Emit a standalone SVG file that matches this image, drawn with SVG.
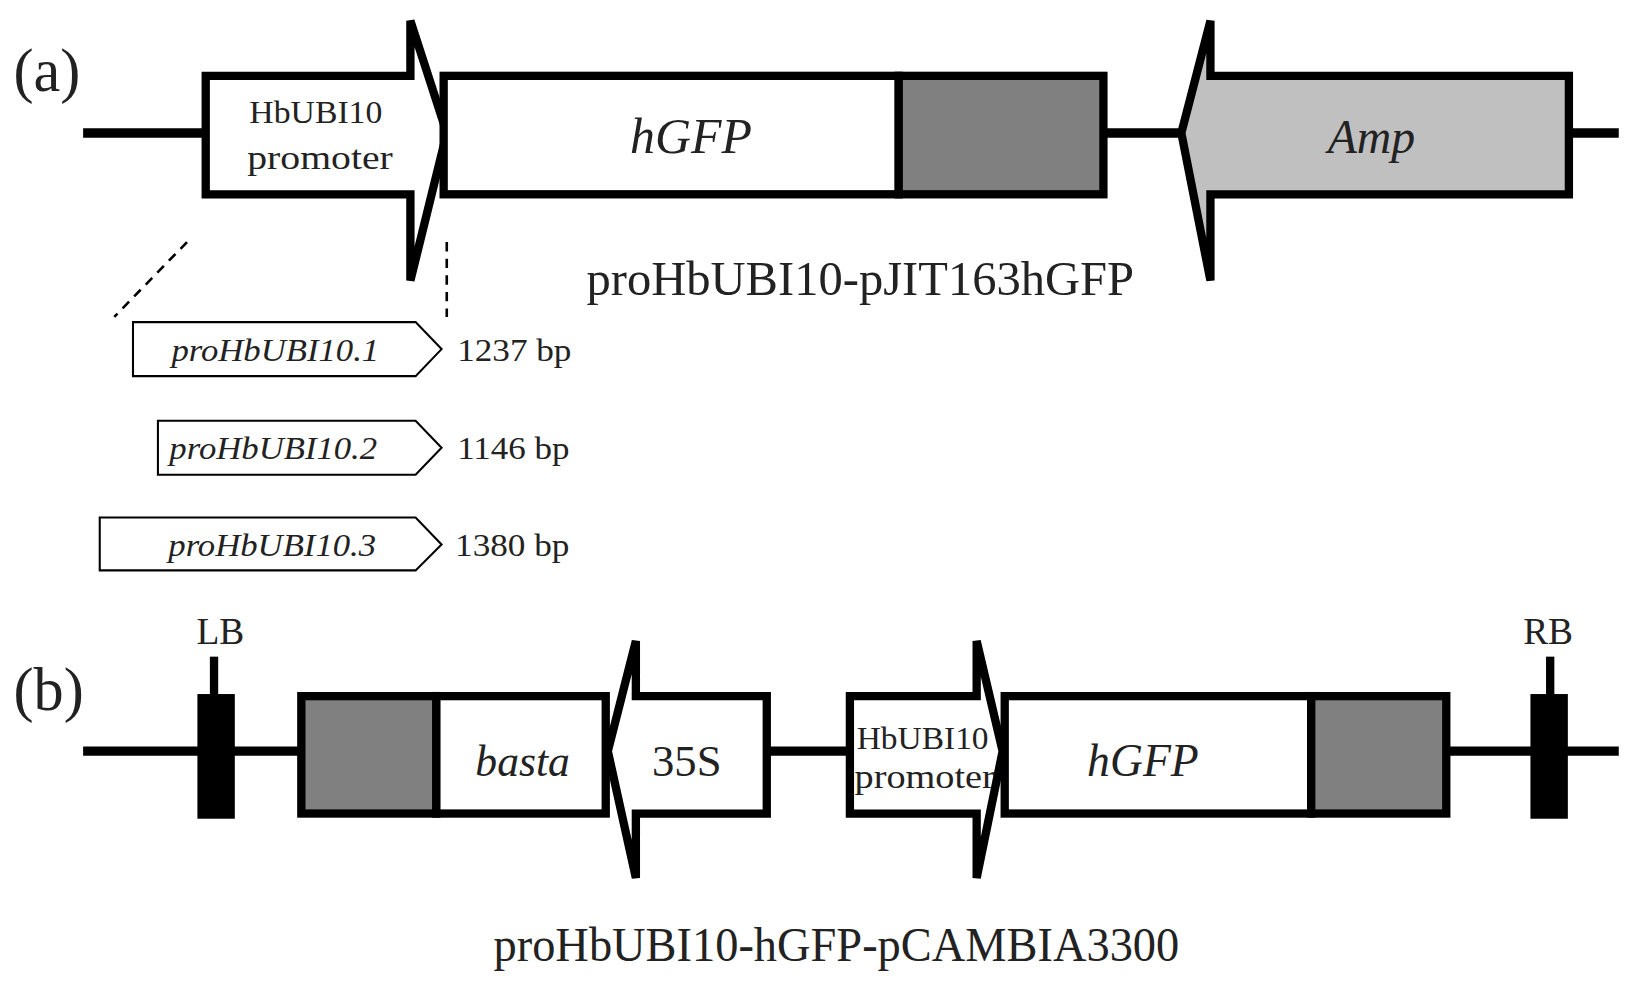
<svg xmlns="http://www.w3.org/2000/svg" width="1629" height="986" viewBox="0 0 1629 986">
<style>
text{font-family:"Liberation Serif","Times New Roman",serif;fill:#222}
.it{font-style:italic}
.bx{stroke:#000;stroke-width:8;stroke-linejoin:miter}
.sm{fill:#fff;stroke:#000;stroke-width:2}
.ln{stroke:#000;stroke-width:9}
.ds{stroke:#000;stroke-width:2.5;stroke-dasharray:9,7}
</style>
<rect width="1629" height="986" fill="#fff"/>
<g transform="scale(1.039)">
<g id="connectors">
<line class="ln" x1="80" y1="128" x2="1558" y2="128"/>
<line class="ln" x1="80" y1="723" x2="1558" y2="723"/>
<line class="ds" x1="180" y1="233" x2="110" y2="305"/>
<line class="ds" x1="430" y1="233" x2="430" y2="305"/>
</g>
<text x="13" y="88" font-size="58">(a)</text>
<g id="promoterA">
<polygon class="bx" fill="#fff" points="198,73 395,73 395,20 430,128 395,270 395,187 198,187"/>
<text x="304" y="118" font-size="30" text-anchor="middle" textLength="128" lengthAdjust="spacingAndGlyphs">HbUBI10</text>
<text x="308" y="163" font-size="32" text-anchor="middle" textLength="140" lengthAdjust="spacingAndGlyphs">promoter</text>
</g>
<g id="hGFPa">
<rect class="bx" fill="#fff" x="427" y="73" width="438" height="114"/>
<rect class="bx" fill="#808080" x="865" y="73" width="197" height="114"/>
<text class="it" x="665" y="147" font-size="48" text-anchor="middle">hGFP</text>
</g>
<g id="amp">
<polygon class="bx" fill="#c0c0c0" points="1510,73 1165,73 1165,20 1137,128 1165,270 1165,187 1510,187"/>
<text class="it" x="1320" y="147" font-size="46" text-anchor="middle">Amp</text>
</g>
<text x="828" y="284" font-size="46" text-anchor="middle" textLength="527" lengthAdjust="spacingAndGlyphs">proHbUBI10-pJIT163hGFP</text>
<g id="p1">
<polygon class="sm" points="128,310 400,310 425,336 400,362 128,362"/>
<text class="it" x="265" y="347" font-size="31" text-anchor="middle" textLength="200" lengthAdjust="spacingAndGlyphs">proHbUBI10.1</text>
<text x="440" y="347" font-size="31" textLength="110" lengthAdjust="spacingAndGlyphs">1237 bp</text>
</g>
<g id="p2">
<polygon class="sm" points="152,405 400,405 425,431 400,457 152,457"/>
<text class="it" x="263" y="442" font-size="31" text-anchor="middle" textLength="200" lengthAdjust="spacingAndGlyphs">proHbUBI10.2</text>
<text x="440" y="442" font-size="31" textLength="108" lengthAdjust="spacingAndGlyphs">1146 bp</text>
</g>
<g id="p3">
<polygon class="sm" points="96,498 400,498 425,524 400,549 96,549"/>
<text class="it" x="262" y="535" font-size="31" text-anchor="middle" textLength="200" lengthAdjust="spacingAndGlyphs">proHbUBI10.3</text>
<text x="438" y="535" font-size="31" textLength="110" lengthAdjust="spacingAndGlyphs">1380 bp</text>
</g>
<text x="13" y="683" font-size="58">(b)</text>
<g id="LB">
<rect x="190" y="668" width="36" height="120" fill="#000"/>
<rect x="202" y="632" width="8" height="40" fill="#000"/>
<text x="212" y="620" font-size="36" text-anchor="middle">LB</text>
</g>
<g id="RB">
<rect x="1473" y="668" width="36" height="120" fill="#000"/>
<rect x="1488" y="632" width="8" height="40" fill="#000"/>
<text x="1490" y="620" font-size="36" text-anchor="middle">RB</text>
</g>
<g id="basta">
<rect class="bx" fill="#808080" x="290" y="670" width="130" height="113"/>
<rect class="bx" fill="#fff" x="420" y="670" width="163" height="113"/>
<text class="it" x="503" y="747" font-size="42" text-anchor="middle">basta</text>
</g>
<g id="p35S">
<polygon class="bx" fill="#fff" points="738,670 612,670 612,617 585,723 612,845 612,783 738,783"/>
<text x="661" y="747" font-size="43" text-anchor="middle">35S</text>
</g>
<g id="promoterB">
<polygon class="bx" fill="#fff" points="818,670 940,670 940,617 965,723 940,845 940,783 818,783"/>
<text x="888" y="721" font-size="30" text-anchor="middle" textLength="127" lengthAdjust="spacingAndGlyphs">HbUBI10</text>
<text x="890" y="758" font-size="32" text-anchor="middle" textLength="135" lengthAdjust="spacingAndGlyphs">promoter</text>
</g>
<g id="hGFPb">
<rect class="bx" fill="#fff" x="967" y="670" width="295" height="113"/>
<rect class="bx" fill="#808080" x="1262" y="670" width="130" height="113"/>
<text class="it" x="1100" y="747" font-size="44" text-anchor="middle">hGFP</text>
</g>
<text x="805" y="925" font-size="46" text-anchor="middle" textLength="660" lengthAdjust="spacingAndGlyphs">proHbUBI10-hGFP-pCAMBIA3300</text>
</g>
</svg>
